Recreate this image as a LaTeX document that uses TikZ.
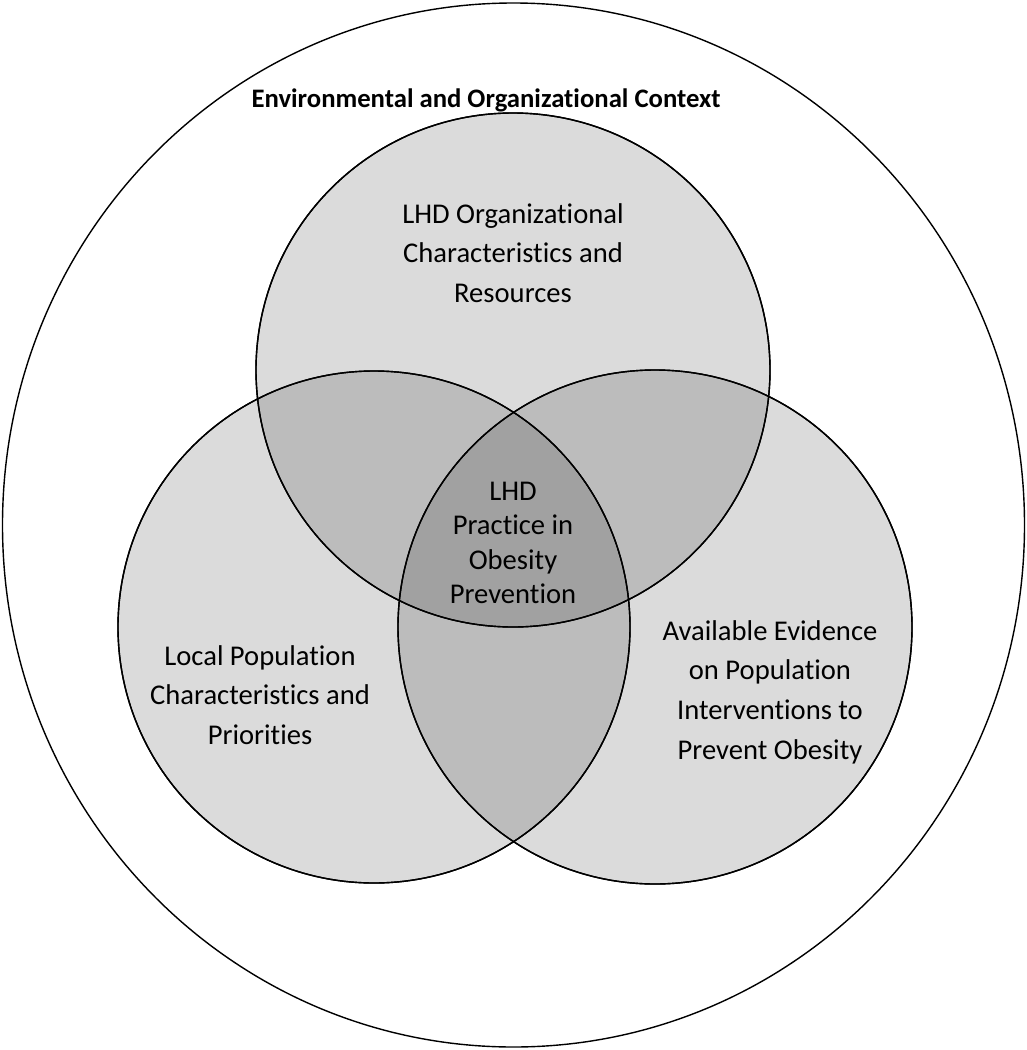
\documentclass[tikz,border=0pt]{standalone}
\usepackage{fontspec}
\setmainfont{Carlito}[RawFeature={-liga}]
\usetikzlibrary{shapes.geometric}
\begin{document}
\begin{tikzpicture}[x=1pt,y=-1pt,
  setc/.style={draw=black, line width=1.4pt, fill=black, fill opacity=0.14},
  lbl/.style={align=center, inner sep=0pt, font=\fontsize{28.6}{39.7}\selectfont}]
\useasboundingbox (0,0) rectangle (1027,1050);
\node[draw=black, line width=1.4pt, ellipse, minimum width=1022pt, minimum height=1044pt, inner sep=0pt] (outer) at (513.5,525) {};
\filldraw[setc] (513,370) circle (257) coordinate (top);
\filldraw[setc] (374,627) circle (256) coordinate (left);
\filldraw[setc] (655,627) circle (257) coordinate (right);
\draw[line width=1.4pt] (513,370) circle (257);
\draw[line width=1.4pt] (374,627) circle (256);
\draw[line width=1.4pt] (655,627) circle (257);
\node[font=\fontsize{26.7}{32}\selectfont\bfseries, inner sep=0pt] (title) at (486,100) {Environmental and Organizational Context};
\node[lbl] (ttop) at (513,253) {LHD Organizational\\Characteristics and\\Resources};
\node[lbl, font=\fontsize{28.6}{34.5}\selectfont] (tmid) at (513,543) {LHD\\Practice in\\Obesity\\Prevention};
\node[lbl] (tleft) at (260,695) {Local Population\\Characteristics and\\Priorities};
\node[lbl] (tright) at (770,692) {Available Evidence\\on Population\\Interventions to\\Prevent Obesity};
\end{tikzpicture}
\end{document}
